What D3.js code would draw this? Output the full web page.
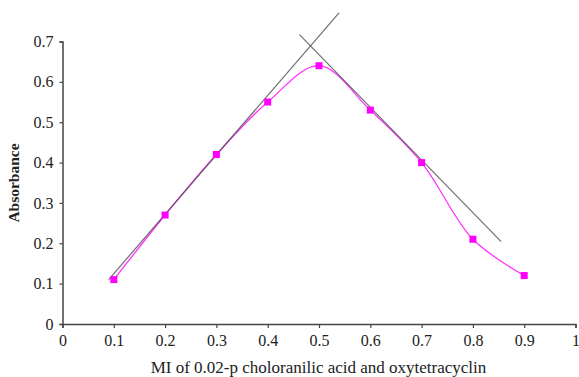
<!DOCTYPE html>
<html>
<head>
<meta charset="utf-8">
<script src="https://cdn.jsdelivr.net/npm/d3@7"></script>
<style>
  body { margin: 0; background: #fff; }
  svg text { font-family: "Liberation Serif", "Times New Roman", serif; fill: #222; }
</style>
</head>
<body>
<div id="chart"></div>
<script>
// mole fraction vs absorbance (job's method)
const moleFraction = [0.1, 0.2, 0.3, 0.4, 0.5, 0.6, 0.7, 0.8, 0.9];
const absorbance = [0.11, 0.27, 0.42, 0.55, 0.64, 0.53, 0.40, 0.21, 0.12];

// extrapolated straight lines (start / end points)
const riseLine = [[0.09, 0.11], [0.539, 0.771]];
const fallLine = [[0.462, 0.717], [0.855, 0.204]];

const xTicks = [0, 0.1, 0.2, 0.3, 0.4, 0.5, 0.6, 0.7, 0.8, 0.9, 1];
const yTicks = [0, 0.1, 0.2, 0.3, 0.4, 0.5, 0.6, 0.7];

const xTitle = 'MI of 0.02-p choloranilic acid and oxytetracyclin';
const yTitle = 'Absorbance';

const W = 579, H = 377;
const margin = { top: 41.5, right: 3.5, bottom: 53, left: 62.5 };
const width = W - margin.left - margin.right;
const height = H - margin.top - margin.bottom;

const svg = d3.select('#chart')
  .append('svg')
  .attr('width', W)
  .attr('height', H);

const g = svg.append('g')
  .attr('transform', `translate(${margin.left},${margin.top})`);

const x = d3.scaleLinear().domain([0, 1]).range([0, width]);
const y = d3.scaleLinear().domain([0, 0.7]).range([height, 0]);

// axes
const xAxis = g.append('g')
  .attr('transform', `translate(0,${height})`)
  .call(d3.axisBottom(x).tickValues(xTicks).tickSize(4).tickPadding(7)
    .tickFormat(d => d === 0 || d === 1 ? d3.format('d')(d) : d3.format('.1f')(d)));

const yAxis = g.append('g')
  .call(d3.axisLeft(y).tickValues(yTicks).tickSize(3).tickPadding(6)
    .tickFormat(d => d === 0 ? '0' : d3.format('.1f')(d)));

[xAxis, yAxis].forEach(a => {
  a.select('.domain').attr('stroke', '#444').attr('stroke-width', 1.5);
  a.selectAll('.tick line').attr('stroke', '#444').attr('stroke-width', 1.2);
  a.selectAll('.tick text')
    .style('font-family', '"Liberation Serif", serif')
    .style('font-size', '16px')
    .attr('fill', '#222');
});

// data curve
const line = d3.line()
  .x(d => x(d[0]))
  .y(d => y(d[1]))
  .curve(d3.curveCatmullRom.alpha(0.5));

const pts = moleFraction.map((m, i) => [m, absorbance[i]]);

g.append('path')
  .datum(pts)
  .attr('fill', 'none')
  .attr('stroke', '#ff33ff')
  .attr('stroke-width', 1.3)
  .attr('d', line);

// straight extrapolation lines
const straight = d3.line().x(d => x(d[0])).y(d => y(d[1]));
[riseLine, fallLine].forEach(l => {
  g.append('path')
    .datum(l)
    .attr('fill', 'none')
    .attr('stroke', '#555')
    .attr('stroke-opacity', 0.85)
    .attr('stroke-width', 1.2)
    .attr('d', straight);
});

// markers
g.selectAll('.pt')
  .data(pts)
  .enter().append('rect')
  .attr('class', 'pt')
  .attr('x', d => x(d[0]) - 3.5)
  .attr('y', d => y(d[1]) - 3.5)
  .attr('width', 7)
  .attr('height', 7)
  .attr('fill', '#ff00ff');

// titles
svg.append('text')
  .attr('x', 318.5)
  .attr('y', 373)
  .attr('text-anchor', 'middle')
  .style('font-size', '17px')
  .text(xTitle);

svg.append('text')
  .attr('transform', `translate(19,183) rotate(-90)`)
  .attr('text-anchor', 'middle')
  .style('font-size', '15.5px')
  .style('font-weight', 'bold')
  .text(yTitle);
</script>
</body>
</html>
